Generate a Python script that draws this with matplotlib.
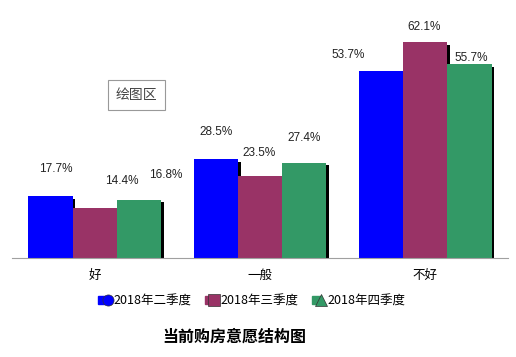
import matplotlib
matplotlib.use('Agg')
import matplotlib.pyplot as plt
import matplotlib.patheffects as pe
from matplotlib.lines import Line2D
from matplotlib.legend_handler import HandlerTuple
import numpy as np

plt.rcParams['font.family'] = ['Noto Sans CJK SC', 'DejaVu Sans']

categories = ['好', '一般', '不好']
series_names = ['2018年二季度', '2018年三季度', '2018年四季度']
q2 = [17.7, 28.5, 53.7]
q3 = [14.4, 23.5, 62.1]
q4 = [16.8, 27.4, 55.7]
title = '当前购房意愿结构图'

colors = ['#0000FF', '#993366', '#339966']
legend_markers = ['o', 's', '^']
# label offsets in points from the bar top (dx, dy), as placed in the original
label_offsets = [
    [(3.5, 20), (0, 19), (-24, 11.5)],
    [(19.5, 19), (-1, 17), (-1, 11)],
    [(19.5, 18), (0, 18), (1, 4.5)],
]

fig = plt.figure(figsize=(5.16, 3.57), dpi=100)
ax = fig.add_axes([0.0233, 0.2773, 0.9612, 0.6827])

x = np.arange(len(categories))
w = 0.267
shadow = [pe.SimplePatchShadow(offset=(2, -2), shadow_rgbFace='black', alpha=1), pe.Normal()]

for i, (vals, c) in enumerate(zip([q2, q3, q4], colors)):
    bars = ax.bar(x + (i - 1) * w, vals, w, color=c, linewidth=0)
    for b, v, off in zip(bars, vals, label_offsets[i]):
        b.set_path_effects(shadow)
        ax.annotate('{:.1f}%'.format(v), (b.get_x() + b.get_width() / 2, v),
                    xytext=off, textcoords='offset points', ha='center', va='center',
                    fontsize=8.5, color='#222222', family=['Liberation Sans', 'DejaVu Sans'])

ax.set_xlim(-0.5, 2.5)
ax.set_ylim(0, 70)
for s in ['top', 'right', 'left']:
    ax.spines[s].set_visible(False)
ax.spines['bottom'].set_color('#a0a0a0')
ax.set_yticks([])
ax.set_xticks(x)
ax.set_xticklabels(categories, fontsize=9)
ax.tick_params(axis='x', length=0, pad=8)

handles = []
for c, m in zip(colors, legend_markers):
    sq = Line2D([], [], marker='s', color=c, linestyle='none', markersize=6)
    mk = Line2D([], [], marker=m, color=c, linestyle='none', markersize=8,
                markeredgecolor='#333333', markeredgewidth=0.5)
    handles.append((sq, mk))
fig.legend(handles, series_names, loc='center', bbox_to_anchor=(0.487, 0.157),
           ncol=3, frameon=False, fontsize=9, handlelength=1.2, handletextpad=0.1,
           columnspacing=1.0, handler_map={tuple: HandlerTuple(ndivide=None, pad=-0.3)})

fig.text(0.265, 0.734, '绘图区', fontsize=10, color='#444444', ha='center', va='center',
         bbox=dict(boxstyle='square,pad=0.55', fc='white', ec='#999999', lw=0.8))

fig.text(0.455, 0.056, title, fontsize=11.5, fontweight='bold', ha='center', va='center')

fig.savefig('out.png', dpi=100)
